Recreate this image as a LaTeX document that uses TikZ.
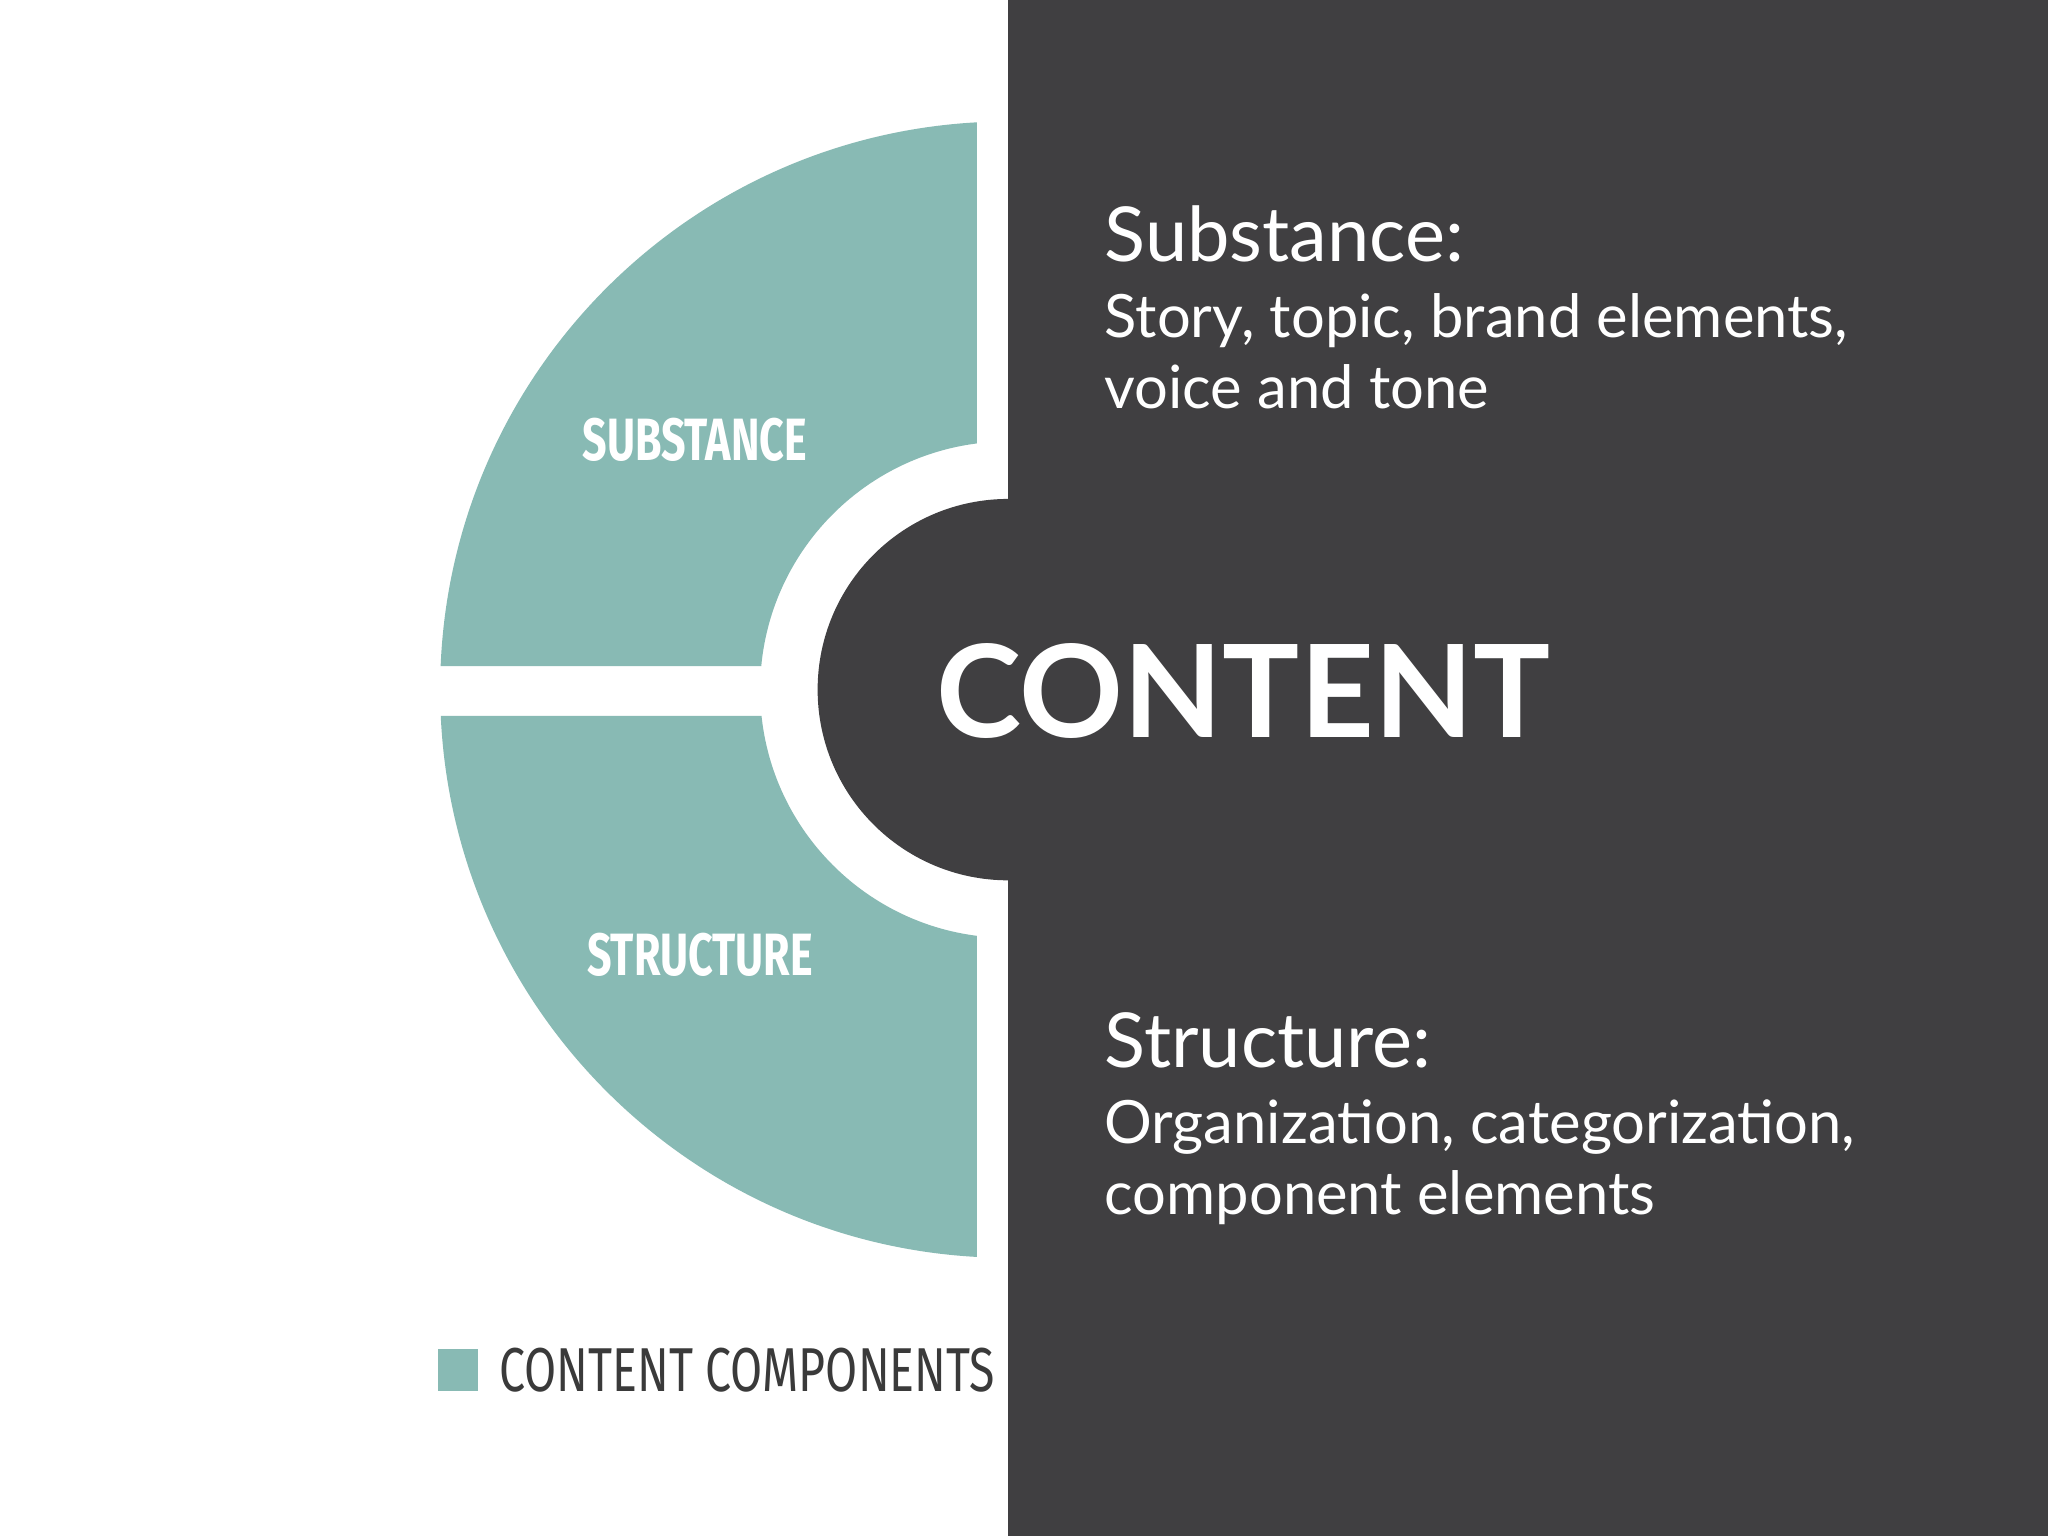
\documentclass[tikz,border=0pt]{standalone}
\usepackage{fontspec}
\setmainfont{Lato}
\newfontfamily\condfont{Fira Sans}
\definecolor{teal}{HTML}{88BAB4}
\definecolor{dark}{HTML}{403F41}
\definecolor{legtxt}{HTML}{3A3A3A}
\tikzset{
 head/.style={anchor=base west,text=white,font=\fontsize{16.5}{18}\selectfont,inner sep=0},
 sub/.style={anchor=base west,text=white,font=\fontsize{13}{15.6}\selectfont,inner sep=0,align=left},
 lab/.style={text=white,font=\condfont\fontsize{13}{14}\selectfont\bfseries,inner sep=0,xscale=0.72},
}
\begin{document}
\begin{tikzpicture}[x=0.01cm,y=-0.01cm]
\useasboundingbox (0,0) rectangle (1568,1176);
\fill[white] (0,0) rectangle (1568,1176);
\fill[dark] (772,0) rectangle (1568,1176);
\begin{scope}
\clip (0,0) rectangle (748,510) (0,548) rectangle (748,1176);
\fill[teal,even odd rule] (772,528) circle[radius=435] (772,528) circle[radius=190];
\end{scope}
\fill[dark] (772,528) circle[radius=146];
\node[lab] (s) at (532,337) {SUBSTANCE};
\node[lab] (t) at (536,731) {STRUCTURE};
\node[text=white,font=\fontsize{28}{30}\selectfont\bfseries,inner sep=0] (c) at (952,529) {CONTENT};
\node[head] (h1) at (845,200) {Substance:};
\node[sub] (b1) at (845,313) {Story, topic, brand elements,\\voice and tone};
\node[head] (h2) at (845,817) {Structure:};
\node[sub] (b2) at (845,930) {Organization, categorization,\\component elements};
\fill[teal] (335,1033) rectangle (366,1065) coordinate (sq);
\node[anchor=west,text=legtxt,font=\condfont\fontsize{13.5}{14}\selectfont\mdseries,inner sep=0,xscale=0.75] (leg) at (382,1049) {CONTENT COMPONENTS};
\end{tikzpicture}
\end{document}
